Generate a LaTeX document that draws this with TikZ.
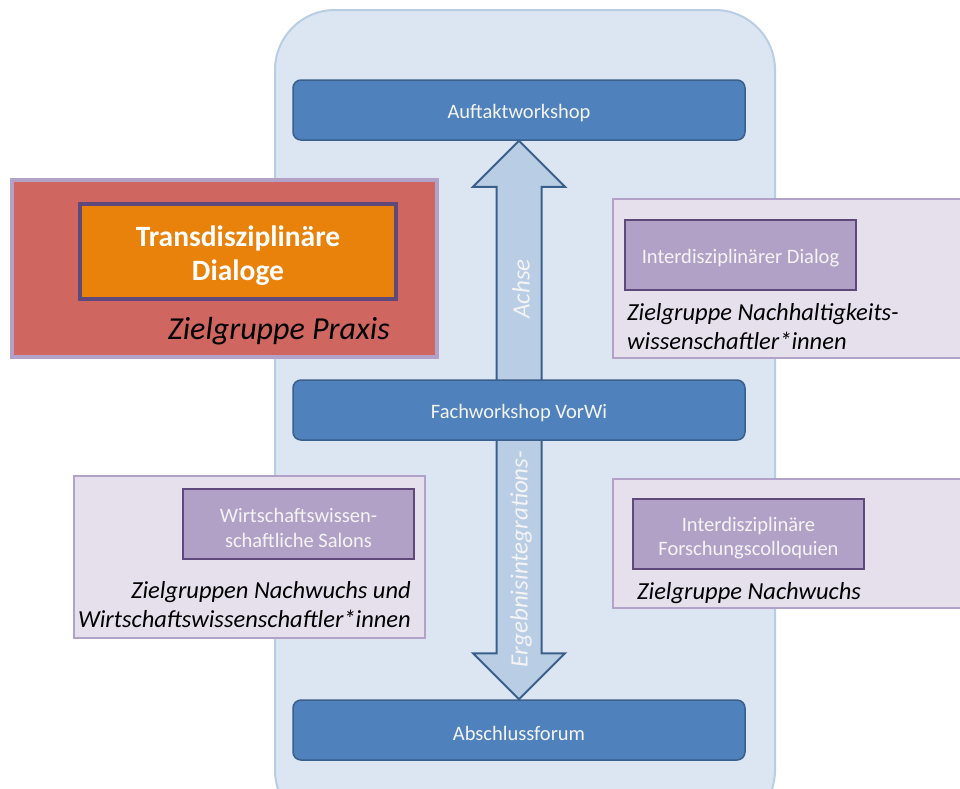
\documentclass[tikz,border=0pt]{standalone}
\usepackage{fontspec}
\setmainfont{Carlito}
\usetikzlibrary{calc}
\definecolor{bgfill}{HTML}{DCE6F2}
\definecolor{bgline}{HTML}{B9CDE5}
\definecolor{bluefill}{HTML}{4F81BD}
\definecolor{blueline}{HTML}{3A5F8B}
\definecolor{arrowfill}{HTML}{B9CDE5}
\definecolor{redfill}{HTML}{CF665F}
\definecolor{orangefill}{HTML}{E8820A}
\definecolor{lilafill}{HTML}{E5E0EC}
\definecolor{lilaline}{HTML}{B3A2C7}
\definecolor{purplefill}{HTML}{B2A1C7}
\definecolor{purpleline}{HTML}{5F497A}
\definecolor{txtwhite}{HTML}{F4F4F4}
\tikzset{
  bluebox/.style={draw=blueline, line width=1.5pt, fill=bluefill, rounded corners=8pt,
    minimum width=452pt, minimum height=60pt, inner sep=0pt},
  bluetext/.style={text=txtwhite, font=\fontsize{20.5}{24}\selectfont, inner sep=0pt, yshift=-3pt},
  groupbox/.style={draw=lilaline, line width=2pt, fill=lilafill, inner sep=0pt},
  purplebox/.style={draw=purpleline, line width=2pt, fill=purplefill, inner sep=0pt,
    minimum width=231pt, minimum height=70pt},
  purpletext/.style={text=txtwhite, align=center, inner sep=0pt, yshift=-4pt,
    font=\fontsize{20.5}{24.5}\selectfont},
  italictext/.style={font=\itshape\fontsize{24.5}{29}\selectfont, inner sep=0pt, text=black},
  arrowtext/.style={rotate=90, text=txtwhite, font=\itshape\fontsize{25}{26}\selectfont, inner sep=0pt},
}
\begin{document}
\begin{tikzpicture}[x=1pt, y=-1pt]
\useasboundingbox (0,0) rectangle (960,788);
% background panel
\draw[draw=bgline, line width=2pt, fill=bgfill, rounded corners=60pt] (275,10) rectangle (775,830);

% left red group
\node[draw=lilaline, line width=4pt, fill=redfill, minimum width=425pt, minimum height=177pt, inner sep=0pt] (praxis) at (224.5,268.5) {};
\node[draw=purpleline, line width=4pt, fill=orangefill, minimum width=316pt, minimum height=95pt, inner sep=0pt] (trans) at (238,251.5) {};
\node[text=white, align=center, inner sep=0pt, yshift=-4pt, font=\bfseries\fontsize{29.5}{34}\selectfont] (transt) at (trans.center) {Transdisziplinäre\\Dialoge};
\node[font=\itshape\fontsize{32}{34}\selectfont, inner sep=0pt, anchor=east] (zpraxis) at (390,331) {Zielgruppe Praxis};

% right top group
\node[groupbox, minimum width=360pt, minimum height=159pt] (g1) at (793,278.5) {};
\node[purplebox] (inter) at (740.5,254.5) {};
\node[purpletext] (intert) at (inter.center) {Interdisziplinärer Dialog};
\node[italictext, anchor=west, align=left] (z1) at (627,327) {Zielgruppe Nachhaltigkeits-\\wissenschaftler*innen};

% left bottom group
\node[groupbox, minimum width=351pt, minimum height=162pt] (g2) at (249.5,557) {};
\node[purplebox] (salon) at (298.5,524) {};
\node[purpletext] (salont) at (salon.center) {Wirtschaftswissen-\\schaftliche Salons};
\node[italictext, anchor=east, align=right] (z2) at (411,605) {Zielgruppen Nachwuchs und\\Wirtschaftswissenschaftler*innen};

% right bottom group
\node[groupbox, minimum width=360pt, minimum height=129pt] (g3) at (793,543.5) {};
\node[purplebox] (colloq) at (748.5,534) {};
\node[purpletext] (colloqt) at (colloq.center) {Interdisziplinäre\\Forschungscolloquien};
\node[italictext, anchor=west] (z3) at (637,593) {Zielgruppe Nachwuchs};

% blue boxes
\node[bluebox] (auftakt) at (519,110) {};
\node[bluetext] (auftaktt) at (auftakt.center) {Auftaktworkshop};
\node[bluebox] (abschluss) at (519,730) {};
\node[bluetext] (abschlusst) at (abschluss.center) {Abschlussforum};

% double arrow
\coordinate (atop) at (auftakt.south);
\coordinate (abot) at (abschluss.north);
\draw[draw=blueline, line width=2pt, fill=arrowfill, line join=miter]
  (atop) -- ($(atop)+(46,46)$) -- ($(atop)+(22.5,46)$) -- ($(abot)+(22.5,-46)$) -- ($(abot)+(46,-46)$)
  -- (abot) -- ($(abot)+(-46,-46)$) -- ($(abot)+(-22.5,-46)$) -- ($(atop)+(-22.5,46)$) -- ($(atop)+(-46,46)$) -- cycle;
\node[arrowtext] (achse) at (521,289) {Achse};
\node[arrowtext] (ergeb) at (521,559) {Ergebnisintegrations-};

\node[bluebox] (fach) at (519,410) {};
\node[bluetext] (facht) at (fach.center) {Fachworkshop VorWi};
\end{tikzpicture}
\end{document}
